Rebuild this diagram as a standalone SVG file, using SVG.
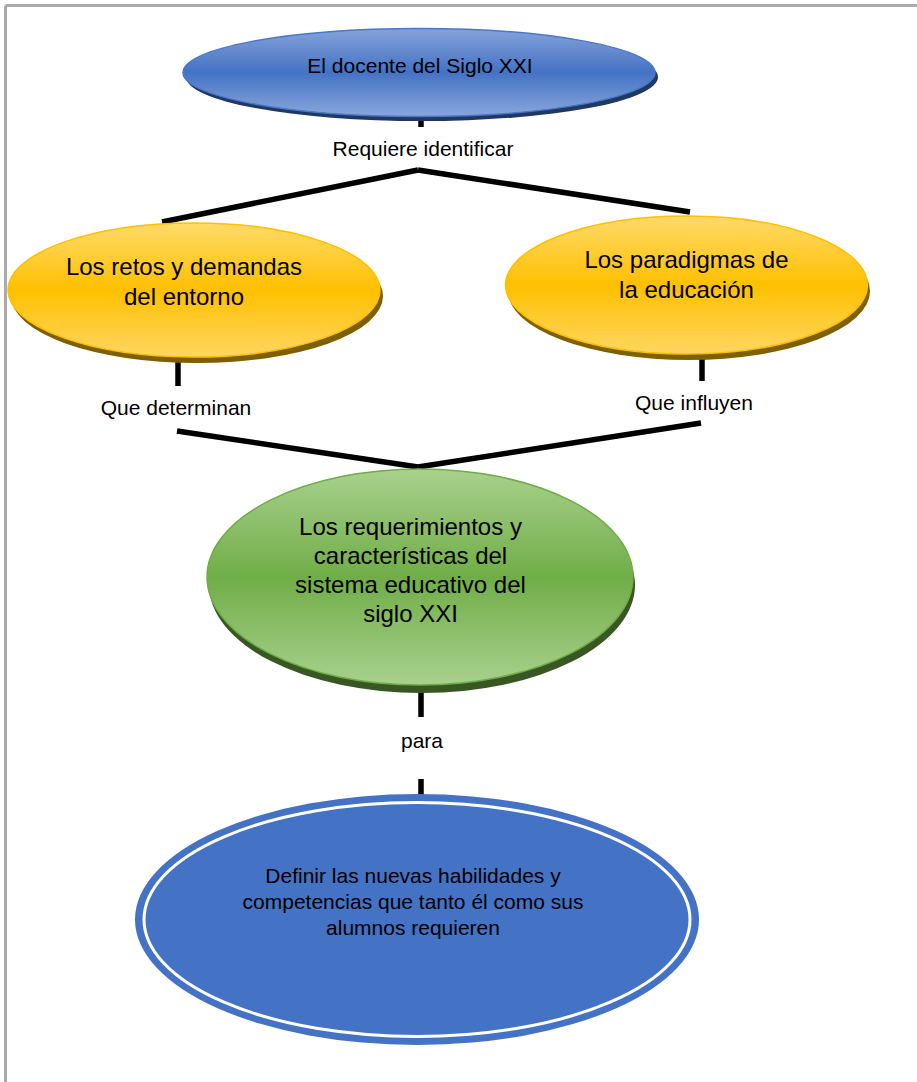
<svg xmlns="http://www.w3.org/2000/svg" width="917" height="1082" viewBox="0 0 917 1082">
<style>
.t{font-family:"Liberation Sans",Arial,sans-serif;fill:#000;text-anchor:middle}
.s21{font-size:21px}
.s24{font-size:24px}
.conn line{stroke:#000;stroke-width:5.5;stroke-linecap:butt}
</style>
<defs>
<linearGradient id="gBlue" x1="0" y1="0" x2="0" y2="1">
<stop offset="0" stop-color="#86a3da"/>
<stop offset="0.5" stop-color="#4472c4"/>
<stop offset="1" stop-color="#8aa7dc"/>
</linearGradient>
<linearGradient id="gYel" x1="0" y1="0" x2="0" y2="1">
<stop offset="0" stop-color="#ffda6a"/>
<stop offset="0.5" stop-color="#ffc000"/>
<stop offset="1" stop-color="#ffd662"/>
</linearGradient>
<linearGradient id="gGrn" x1="0" y1="0" x2="0" y2="1">
<stop offset="0" stop-color="#a9d18e"/>
<stop offset="0.5" stop-color="#70ad47"/>
<stop offset="1" stop-color="#a9d18e"/>
</linearGradient>
</defs>
<rect width="917" height="1082" fill="#fff"/>
<g id="border">
<line x1="5.5" y1="5.5" x2="917" y2="5.5" stroke="#aaaaaa" stroke-width="3"/>
<line x1="5.5" y1="5.5" x2="5.5" y2="1082" stroke="#aaaaaa" stroke-width="3"/>
</g>
<g class="conn" id="connectors">
<line x1="421" y1="112" x2="421" y2="127"/>
<line x1="162" y1="222" x2="418" y2="170"/>
<line x1="418" y1="170" x2="690" y2="212"/>
<line x1="178" y1="360" x2="178" y2="386"/>
<line x1="702" y1="355" x2="702" y2="381"/>
<line x1="177" y1="431" x2="418" y2="467"/>
<line x1="701" y1="423" x2="418" y2="467"/>
<line x1="421" y1="692" x2="421" y2="717"/>
<line x1="421" y1="779" x2="421" y2="801"/>
</g>
<g id="n-docente">
<ellipse cx="422" cy="77" rx="236" ry="44" fill="#203864"/>
<ellipse cx="419" cy="72.5" rx="236" ry="44" fill="url(#gBlue)" stroke="#4a78c8" stroke-width="1.5"/>
<text class="t s21" x="420" y="73">El docente del Siglo XXI</text>
</g>
<text class="t s21" x="423" y="156">Requiere identificar</text>
<g id="n-retos">
<ellipse cx="197" cy="296" rx="186" ry="67" fill="#7f6000"/>
<ellipse cx="194" cy="290" rx="186" ry="67" fill="url(#gYel)" stroke="#ffc000" stroke-width="1.5"/>
<text class="t s24" x="184" y="275">Los retos y demandas</text>
<text class="t s24" x="184" y="305">del entorno</text>
</g>
<g id="n-paradigmas">
<ellipse cx="689" cy="291" rx="181" ry="69" fill="#7f6000"/>
<ellipse cx="686.5" cy="285" rx="181" ry="69" fill="url(#gYel)" stroke="#ffc000" stroke-width="1.5"/>
<text class="t s24" x="686.5" y="268">Los paradigmas de</text>
<text class="t s24" x="686.5" y="298">la educación</text>
</g>
<text class="t s21" x="176" y="415">Que determinan</text>
<text class="t s21" x="694" y="410">Que influyen</text>
<g id="n-requerimientos">
<ellipse cx="422" cy="585" rx="213" ry="108" fill="#385723"/>
<ellipse cx="420" cy="577" rx="213" ry="108" fill="url(#gGrn)" stroke="#70ad47" stroke-width="1.5"/>
<text class="t s24" x="410.5" y="535">Los requerimientos y</text>
<text class="t s24" x="410.5" y="564">características del</text>
<text class="t s24" x="410.5" y="593">sistema educativo del</text>
<text class="t s24" x="410.5" y="622">siglo XXI</text>
</g>
<text class="t s21" x="422" y="748">para</text>
<g id="n-definir">
<ellipse cx="417" cy="919.5" rx="282" ry="125.5" fill="#4472c4"/>
<ellipse cx="417" cy="919.5" rx="273" ry="117" fill="none" stroke="#fff" stroke-width="3"/>
<text class="t s21" x="413" y="883">Definir las nuevas habilidades y</text>
<text class="t s21" x="413" y="909">competencias que tanto él como sus</text>
<text class="t s21" x="413" y="935">alumnos requieren</text>
</g>
</svg>
